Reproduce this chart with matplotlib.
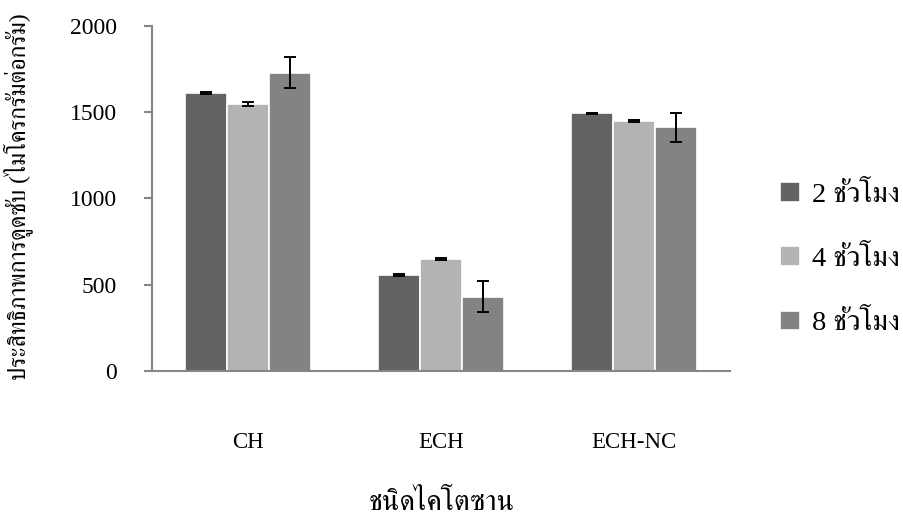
import matplotlib
matplotlib.use("Agg")
import matplotlib.pyplot as plt
import numpy as np

# Adsorption efficiency (µg/g) per chitosan type and contact time
chitosan_types = ["CH", "ECH", "ECH-NC"]
series_labels = ["2 ชั่วโมง", "4 ชั่วโมง", "8 ชั่วโมง"]
values_2h = [1610, 556, 1493]
values_4h = [1550, 649, 1450]
values_8h = [1729, 430, 1413]
err_2h = [6, 8, 5]
err_4h = [12, 8, 7]
err_8h = [89, 89, 84]

y_ticks = [0, 500, 1000, 1500, 2000]

FONT = ["Liberation Serif", "FreeSerif"]
plt.rcParams["font.family"] = FONT

colors = ["#636363", "#b3b3b3", "#838383"]
axis_gray = "#868686"

fig = plt.figure(figsize=(9.04, 5.18), dpi=100)
ax = fig.add_axes([152 / 904, 147 / 518, 578 / 904, 345 / 518])

x = np.arange(len(chitosan_types))
width = 0.218
series = [values_2h, values_4h, values_8h]
errors = [err_2h, err_4h, err_8h]
for i, (vals, errs) in enumerate(zip(series, errors)):
    ax.bar(x + (i - 1) * width, vals, width, yerr=errs, color=colors[i],
           edgecolor="white", linewidth=1.2, label=series_labels[i],
           capsize=4.3, error_kw=dict(elinewidth=1.4, capthick=1.4, ecolor="black"))

ax.set_xlim(-0.5, len(chitosan_types) - 0.5)
ax.set_ylim(0, 2000)
ax.set_yticks(y_ticks)
ax.set_yticklabels([str(t) for t in y_ticks], fontsize=17)
ax.set_xticks(x)
ax.set_xticklabels(chitosan_types, fontsize=16.5)

for side in ["top", "right"]:
    ax.spines[side].set_visible(False)
for side in ["left", "bottom"]:
    ax.spines[side].set_color(axis_gray)
    ax.spines[side].set_linewidth(1.5)
ax.tick_params(axis="y", direction="out", length=6, width=1.5, color=axis_gray, pad=19)
ax.tick_params(axis="x", length=0, pad=44)

fig.text(18 / 904, 1 - 197 / 518, "ประสิทธิภาพการดูดซับ (ไมโครกรัมต่อกรัม)",
         rotation=90, ha="center", va="center", fontsize=17.2)
fig.text(442 / 904, 1 - 516 / 518, "ชนิดไคโตซาน", ha="center", va="bottom",
         fontsize=21)

ax.legend(loc="center left", bbox_to_anchor=(780 / 904, 1 - 259 / 518),
          bbox_transform=fig.transFigure, frameon=False, fontsize=20.5,
          handlelength=0.7, handleheight=0.7, handletextpad=0.42,
          labelspacing=1.35, borderpad=0, borderaxespad=0)

fig.savefig("out.png", dpi=100)
